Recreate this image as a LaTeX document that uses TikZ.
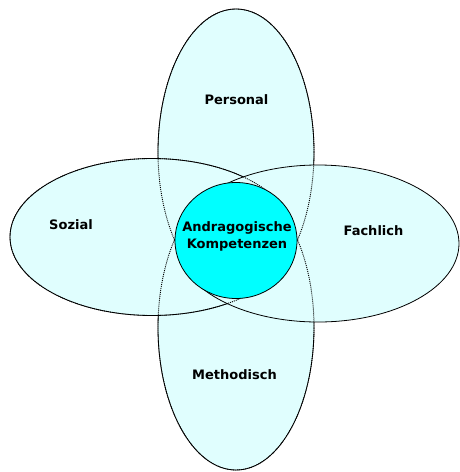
\documentclass[tikz,border=0pt]{standalone}
\usepackage{fontspec}
\setmainfont{DejaVu Sans}
\definecolor{petalc}{RGB}{224,254,254}
\definecolor{corec}{RGB}{0,255,255}
\begin{document}
\begin{tikzpicture}[x=1pt,y=-1pt,
  petal/.style={fill=petalc, draw=black, line width=0.8pt},
  hidden/.style={draw=black, line width=0.9pt, dash pattern=on 1pt off 1pt},
  core/.style={fill=corec, draw=black, line width=0.8pt},
  lab/.style={font=\fontsize{13}{15}\selectfont\bfseries, anchor=base, inner sep=0pt}]
\useasboundingbox[fill=white] (0,0) rectangle (460,472);
% petals (bottom to top)
\path[petal] (236,152) ellipse [x radius=78pt, y radius=143pt];
\path[petal] (236,327.5) ellipse [x radius=78pt, y radius=142.5pt];
\path[petal] (152,237) ellipse [x radius=142pt, y radius=78.5pt];
\path[petal] (318,243.5) ellipse [x radius=141pt, y radius=78.5pt];
% edges seen through the upper petals
\path[hidden] (236,152) ellipse [x radius=78pt, y radius=143pt];
\path[hidden] (236,327.5) ellipse [x radius=78pt, y radius=142.5pt];
\path[hidden] (152,237) ellipse [x radius=142pt, y radius=78.5pt];
% core
\path[core] (236,240.5) ellipse [x radius=61pt, y radius=58pt];
% labels
\node[lab] (personal) at (236.5,104) {Personal};
\node[lab] (sozial) at (71,229.3) {Sozial};
\node[lab] (fachlich) at (373.5,235.7) {Fachlich};
\node[lab] (methodisch) at (234.5,379) {Methodisch};
\node[lab] (core1) at (237,231.7) {Andragogische};
\node[lab] (core2) at (237,248) {Kompetenzen};
\end{tikzpicture}
\end{document}
